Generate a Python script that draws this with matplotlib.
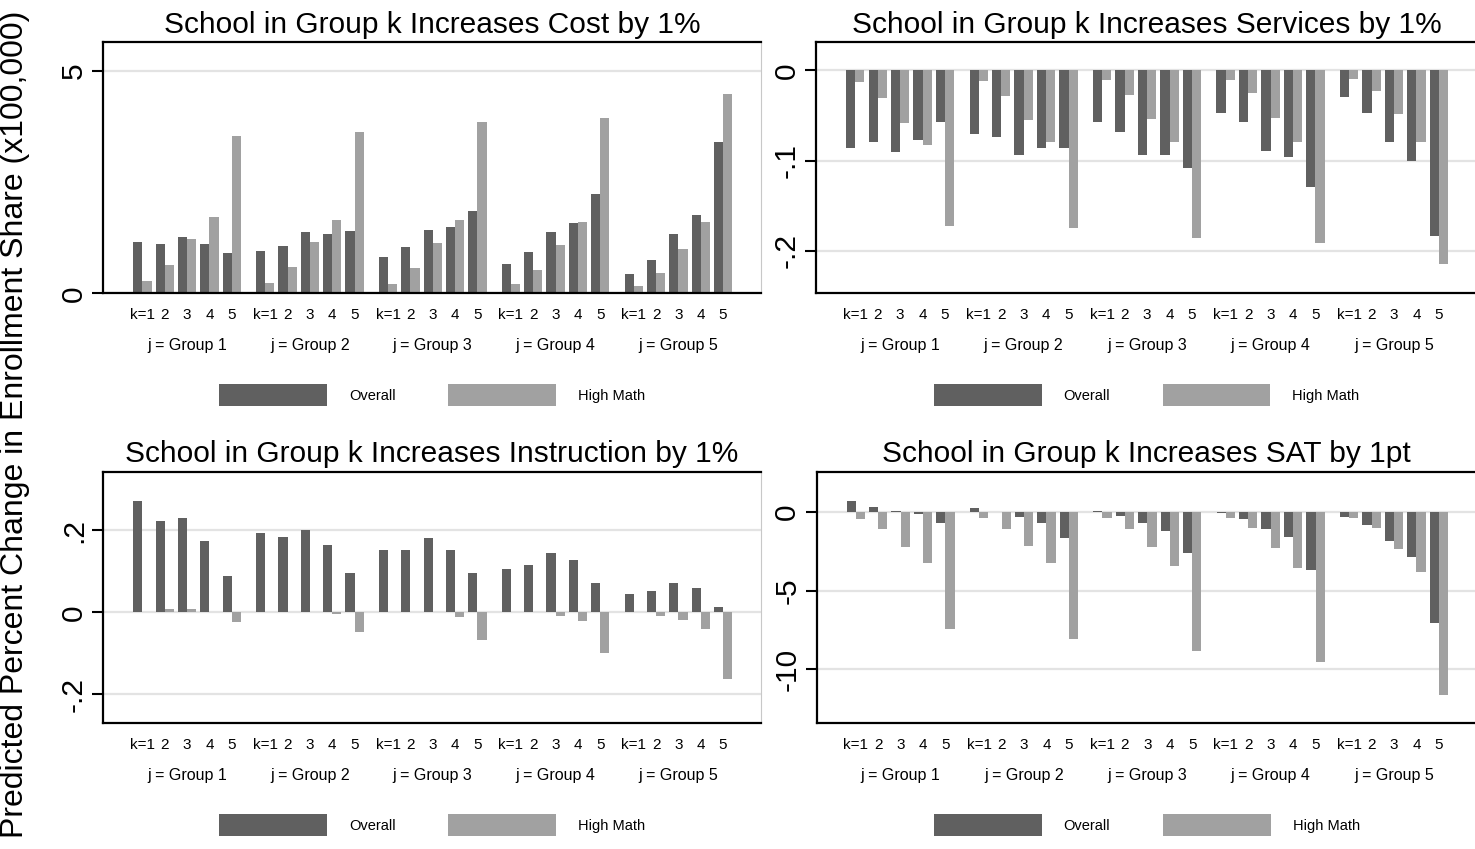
import numpy as np
import matplotlib
matplotlib.use("Agg")
import matplotlib.pyplot as plt
from matplotlib.patches import Patch

plt.rcParams['font.family'] = ['Liberation Sans', 'DejaVu Sans']

# ---- data: 5 groups j, each with 5 changing groups k ----
group_labels = ["j = Group 1", "j = Group 2", "j = Group 3", "j = Group 4", "j = Group 5"]
k_labels = ["k=1", "2", "3", "4", "5"]
series_names = ["Overall", "High Math"]

cost_overall = [1.16, 1.10, 1.27, 1.10, 0.91,
                0.95, 1.06, 1.37, 1.33, 1.41,
                0.81, 1.04, 1.43, 1.49, 1.84,
                0.66, 0.93, 1.38, 1.58, 2.23,
                0.43, 0.75, 1.33, 1.76, 3.40]
cost_high = [0.28, 0.64, 1.22, 1.71, 3.53,
             0.23, 0.58, 1.15, 1.64, 3.62,
             0.21, 0.56, 1.12, 1.64, 3.85,
             0.21, 0.52, 1.08, 1.61, 3.95,
             0.16, 0.46, 1.00, 1.60, 4.47]

services_overall = [-0.0864, -0.0794, -0.0909, -0.0776, -0.0576,
                    -0.0702, -0.0743, -0.0935, -0.0864, -0.0864,
                    -0.0576, -0.0687, -0.0935, -0.0935, -0.1080,
                    -0.0466, -0.0576, -0.0897, -0.0957, -0.1290,
                    -0.0292, -0.0466, -0.0790, -0.1009, -0.1833]
services_high = [-0.0133, -0.0310, -0.0587, -0.0831, -0.1720,
                 -0.0122, -0.0280, -0.0554, -0.0790, -0.1750,
                 -0.0110, -0.0270, -0.0536, -0.0790, -0.1855,
                 -0.0110, -0.0250, -0.0524, -0.0790, -0.1910,
                 -0.0100, -0.0230, -0.0487, -0.0790, -0.2150]

instruction_overall = [0.272, 0.223, 0.229, 0.174, 0.0885,
                       0.193, 0.183, 0.200, 0.164, 0.095,
                       0.151, 0.151, 0.180, 0.151, 0.095,
                       0.106, 0.115, 0.145, 0.127, 0.0715,
                       0.0455, 0.052, 0.0715, 0.059, 0.013]
instruction_high = [0.001, 0.007, 0.007, 0.001, -0.0237,
                    0.001, 0.001, 0.001, -0.005, -0.048,
                    0.001, 0.001, 0.001, -0.011, -0.068,
                    0.001, 0.001, -0.008, -0.022, -0.0985,
                    0.001, -0.008, -0.0195, -0.040, -0.163]

sat_overall = [0.72, 0.32, 0.04, -0.15, -0.68,
               0.25, -0.02, -0.32, -0.68, -1.63,
               0.04, -0.28, -0.72, -1.21, -2.61,
               -0.08, -0.44, -1.08, -1.61, -3.69,
               -0.32, -0.85, -1.84, -2.86, -7.05]
sat_high = [-0.47, -1.10, -2.22, -3.26, -7.44,
            -0.40, -1.10, -2.16, -3.26, -8.07,
            -0.40, -1.10, -2.20, -3.43, -8.81,
            -0.40, -1.04, -2.27, -3.56, -9.53,
            -0.40, -1.04, -2.33, -3.83, -11.63]

titles = ["School in Group k Increases Cost by 1%",
          "School in Group k Increases Services by 1%",
          "School in Group k Increases Instruction by 1%",
          "School in Group k Increases SAT by 1pt"]
y_ticks = [[0, 5], [-0.2, -0.1, 0], [-0.2, 0, 0.2], [-10, -5, 0]]
y_ticklabels = [["0", "5"], ["-.2", "-.1", "0"], ["-.2", "0", ".2"], ["-10", "-5", "0"]]
y_limits = [(0, 5.64), (-0.247, 0.031), (-0.271, 0.343), (-13.43, 2.56)]
panels = [(cost_overall, cost_high), (services_overall, services_high),
          (instruction_overall, instruction_high), (sat_overall, sat_high)]

ylabel = "Predicted Percent Change in Enrollment Share (x100,000)"

# ---- styling ----
DARK = "#606060"
LIGHT = "#a1a1a1"
GRID = "#e3e3e3"
GROUP_GAP = 5.5
BAR_W = 0.41

W, H = 1475, 849
fig = plt.figure(figsize=(W / 100, H / 100), dpi=100)

# axes boxes in pixels: (left, top, right, bottom)
boxes = [(103.3, 42.3, 761, 293.3), (816, 42.5, 1477, 293.3),
         (103.3, 471.7, 761, 723.3), (816.5, 471.7, 1477, 723.3)]

n_groups = len(group_labels)
n_k = len(k_labels)
pair_x = np.array([g * GROUP_GAP + k for g in range(n_groups) for k in range(n_k)], dtype=float)
group_centers = np.array([g * GROUP_GAP + (n_k - 1) / 2 for g in range(n_groups)])

for i, ((ov, hm), box) in enumerate(zip(panels, boxes)):
    l, t, r, b = box
    ax = fig.add_axes([l / W, 1 - b / H, (r - l) / W, (b - t) / H])
    ax.set_axisbelow(True)
    ax.bar(pair_x - BAR_W / 2, ov, width=BAR_W, color=DARK, edgecolor="none", label=series_names[0])
    ax.bar(pair_x + BAR_W / 2, hm, width=BAR_W, color=LIGHT, edgecolor="none", label=series_names[1])

    margin = 1.75
    ax.set_xlim(pair_x[0] - margin, pair_x[-1] + margin - 0.05)
    ax.set_ylim(*y_limits[i])

    ax.set_yticks(y_ticks[i])
    ax.set_yticklabels(y_ticklabels[i], rotation=90, va="center", fontsize=21.5)
    ax.tick_params(axis="y", length=8, width=1.5, pad=3, direction="out")
    ax.yaxis.grid(True, color=GRID, linewidth=1.6)

    ax.set_xticks(pair_x)
    ax.set_xticklabels(k_labels * n_groups, fontsize=11)
    ax.tick_params(axis="x", length=0, pad=10.5)

    for s in ["left", "top", "bottom"]:
        ax.spines[s].set_linewidth(1.6)
        ax.spines[s].set_color("black")
    ax.spines["right"].set_linewidth(0.8)
    ax.spines["right"].set_color("#c8c8c8")

    for gx, gl in zip(group_centers, group_labels):
        ax.annotate(gl, xy=(gx, 0), xycoords=("data", "axes fraction"),
                    xytext=(0, -37.5), textcoords="offset points",
                    ha="center", va="center", fontsize=11.5)

    ax.set_title(titles[i], fontsize=21.5, pad=7)

    handles = [Patch(facecolor=DARK, edgecolor="none"), Patch(facecolor=LIGHT, edgecolor="none")]
    ax.legend(handles, series_names, loc="center", bbox_to_anchor=(0.5, -0.405),
              ncol=2, frameon=False, fontsize=10.5, handlelength=7.4, handleheight=2.0,
              handletextpad=1.5, columnspacing=3.6)

fig.text(15 / W, 0.5, ylabel, rotation=90, ha="center", va="center", fontsize=23)

fig.savefig("out.png", dpi=100)
